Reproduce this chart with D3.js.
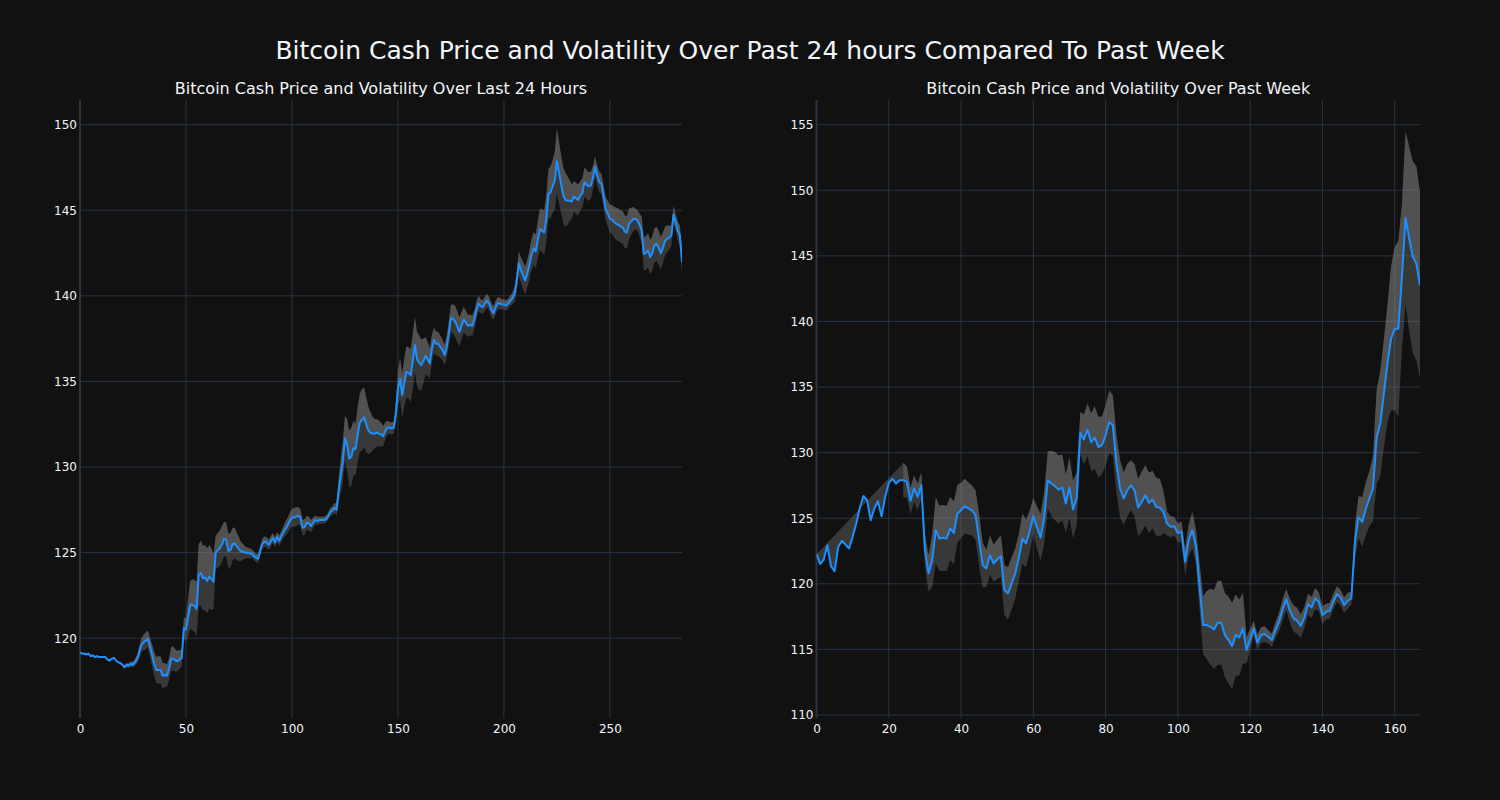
<!DOCTYPE html>
<html>
<head>
<meta charset="utf-8">
<script src="https://cdn.jsdelivr.net/npm/d3@7"></script>
<style>
html,body{margin:0;padding:0;background:#111111;}
svg{display:block;}
</style>
</head>
<body>
<svg id="chart" width="1500" height="800"></svg>
<script>
// ---------------- DATA ----------------
const mainTitle = "Bitcoin Cash Price and Volatility Over Past 24 hours Compared To Past Week";
const leftTitle = "Bitcoin Cash Price and Volatility Over Last 24 Hours";
const rightTitle = "Bitcoin Cash Price and Volatility Over Past Week";

// Last 24 hours: price per step (index 0..284)
const dayPrice = [
119.15,119.1,119.1,119.05,119.1,118.95,119.0,118.9,118.95,118.9,
118.9,118.9,118.9,118.75,118.7,118.8,118.85,118.7,118.6,118.55,
118.45,118.3,118.45,118.4,118.5,118.45,118.6,118.8,119.2,119.6,
119.75,119.85,119.95,119.5,119.0,118.5,118.15,118.15,118.15,117.8,
117.85,117.8,118.2,118.8,118.8,118.7,118.65,118.75,118.85,120.6,
120.5,121.2,121.95,121.95,121.9,121.7,123.7,123.8,123.5,123.55,
123.35,123.6,123.45,123.3,125.0,125.15,125.25,125.5,125.8,125.75,
125.1,125.15,125.5,125.55,125.35,125.2,125.05,125.05,125.0,125.0,
124.95,124.95,124.8,124.7,124.65,125.1,125.5,125.65,125.6,125.45,
125.65,125.85,125.6,125.9,125.7,125.95,126.2,126.4,126.6,126.85,
127.05,127.05,127.1,127.15,127.05,126.45,126.5,126.75,126.7,126.55,
126.75,126.9,126.85,126.9,126.9,126.9,126.95,127.1,127.35,127.45,
127.6,127.5,128.6,129.5,130.3,131.7,131.3,130.5,130.6,131.1,
131.05,131.9,132.6,132.75,132.9,132.5,132.15,132.0,131.95,131.95,
132.0,131.95,131.9,131.8,132.1,132.3,132.3,132.25,132.3,133.1,
134.6,135.15,134.2,134.95,135.55,135.5,135.35,136.2,137.15,136.3,
136.1,135.95,136.2,136.5,136.3,136.05,136.9,137.42,137.2,137.2,
137.0,136.85,136.55,137.0,137.8,138.7,138.65,138.5,138.2,137.9,
138.25,138.6,138.45,138.25,138.3,138.25,138.6,139.15,139.55,139.4,
139.35,139.55,139.72,139.55,139.2,138.98,139.3,139.57,139.55,139.5,
139.5,139.43,139.55,139.7,139.85,140.1,140.8,141.9,141.5,141.2,
140.9,141.3,141.8,142.4,142.77,142.6,143.3,143.9,143.8,143.7,
144.5,145.95,146.05,146.4,146.74,147.86,147.2,146.5,145.86,145.6,
145.57,145.55,145.5,145.8,145.7,145.6,145.85,146.0,146.64,146.5,
146.39,146.45,146.9,147.55,147.0,146.64,146.55,145.8,145.08,144.8,
144.5,144.45,144.3,144.2,144.15,144.05,144.0,143.75,143.7,144.2,
144.35,144.49,144.5,144.4,144.15,143.8,142.45,142.5,142.65,142.26,
142.5,142.95,143.04,142.8,142.49,142.8,143.2,143.33,143.4,143.53,
144.74,144.3,143.8,143.53,141.96
];
// Last 24 hours: volatility half-width of the band around the price
const dayVol = [
0.05,0.05,0.05,0.05,0.05,0.05,0.05,0.05,0.05,0.05,
0.05,0.05,0.05,0.05,0.05,0.05,0.05,0.05,0.05,0.05,
0.05,0.05,0.1,0.12,0.15,0.18,0.2,0.25,0.35,0.4,
0.45,0.5,0.5,0.55,0.65,0.7,0.75,0.8,0.8,0.75,
0.7,0.65,0.65,0.7,0.7,0.65,0.6,0.55,0.5,0.6,
0.7,1.1,1.4,1.5,1.5,1.6,1.8,1.9,1.9,1.9,
1.9,1.85,1.8,1.6,1.0,1.0,1.05,1.05,1.0,1.0,
1.0,1.0,0.95,0.9,0.8,0.7,0.55,0.45,0.35,0.3,
0.3,0.25,0.25,0.25,0.25,0.25,0.3,0.3,0.3,0.3,
0.3,0.3,0.3,0.3,0.3,0.3,0.35,0.4,0.45,0.5,
0.5,0.55,0.55,0.5,0.5,0.45,0.45,0.4,0.4,0.35,
0.3,0.25,0.25,0.2,0.2,0.2,0.2,0.2,0.25,0.25,
0.3,0.35,0.7,1.0,1.2,1.3,1.5,1.65,1.7,1.6,
1.5,1.6,1.7,1.8,1.75,1.6,1.4,1.2,1.0,0.85,
0.8,0.75,0.7,0.6,0.5,0.4,0.35,0.35,0.35,0.6,
1.0,1.2,1.3,1.4,1.5,1.5,1.55,1.6,1.6,1.6,
1.6,1.5,1.3,1.1,1.0,0.9,0.8,0.75,0.7,0.7,
0.65,0.6,0.6,0.65,0.75,0.8,0.85,0.9,0.9,0.85,
0.8,0.75,0.7,0.65,0.6,0.6,0.55,0.5,0.45,0.4,
0.4,0.4,0.4,0.4,0.4,0.4,0.4,0.35,0.35,0.3,
0.3,0.3,0.3,0.3,0.35,0.45,0.6,0.7,0.75,0.8,
0.8,0.8,0.85,0.9,0.95,1.0,1.1,1.2,1.25,1.3,
1.4,1.45,1.5,1.55,1.7,1.9,1.8,1.7,1.65,1.6,
1.4,1.2,1.0,0.9,0.9,0.9,0.85,0.85,0.85,0.85,
0.85,0.8,0.7,0.6,0.6,0.6,0.6,0.65,0.7,0.75,
0.8,0.85,0.9,0.95,0.95,0.95,0.95,0.95,0.95,0.9,
0.8,0.7,0.6,0.6,0.65,0.8,0.95,1.0,1.0,1.0,
1.0,1.0,1.0,1.0,0.95,0.9,0.85,0.8,0.7,0.6,
0.5,0.5,0.55,0.6,0.65
];

// Past week: price per step (index 0..167)
const weekPrice = [
122.26,121.5,121.85,122.94,121.35,120.96,122.8,123.27,123.0,122.69,
123.58,124.6,125.8,126.7,126.37,124.85,125.74,126.3,125.15,126.62,
127.69,128.0,127.64,127.9,127.9,127.77,126.32,127.26,126.62,127.51,
122.56,120.79,121.75,124.09,123.45,123.5,123.45,124.21,123.88,125.36,
125.6,125.91,125.75,125.6,125.23,123.33,121.42,121.17,122.18,121.55,
121.85,122.1,119.52,119.26,120.03,120.79,122.0,123.45,123.07,124.0,
125.15,124.3,123.53,125.0,127.9,127.65,127.44,127.18,127.35,126.12,
127.34,125.66,126.5,131.5,131.0,131.75,130.8,131.14,130.43,130.56,
131.32,132.33,132.08,129.16,127.26,126.5,127.13,127.51,127.13,125.81,
126.24,126.75,126.17,126.42,125.86,125.81,125.48,124.59,124.34,124.39,
123.88,123.96,121.68,123.32,124.09,122.82,119.77,116.85,116.85,116.73,
116.52,117.03,117.03,116.09,115.71,115.25,116.09,115.91,116.6,114.95,
115.76,116.6,115.53,116.09,116.17,115.96,115.71,116.47,117.1,118.05,
118.81,117.94,117.36,117.18,116.78,117.44,118.45,118.2,118.88,118.63,
117.61,117.87,117.94,118.63,119.21,118.96,118.38,118.71,118.88,123.2,
125.08,124.72,125.7,126.5,127.26,131.18,132.2,134.5,136.8,138.69,
139.45,139.45,143.4,147.9,146.32,144.92,144.41,142.76
];
// Past week: volatility half-width (null = not yet available)
const weekVol = [
null,null,null,null,null,null,null,null,null,null,
null,null,null,null,null,null,null,null,null,null,
null,null,null,null,1.3,1.2,1.0,1.0,1.0,1.0,
1.2,1.4,2.0,2.5,2.5,2.5,2.5,2.4,2.4,2.2,
2.1,2.1,2.0,1.9,1.9,2.0,1.7,1.4,1.5,1.4,
1.5,1.6,1.9,2.0,2.0,1.9,1.8,1.9,1.8,1.6,
1.4,1.6,1.8,2.0,2.2,2.5,2.6,2.6,2.5,2.2,
2.3,2.2,2.0,1.6,1.9,2.0,2.2,2.4,2.3,2.2,
2.3,2.4,2.3,2.2,2.2,2.0,2.0,1.9,2.0,2.2,
2.3,2.3,2.3,2.2,2.2,2.2,1.6,0.9,0.8,0.7,
0.7,0.8,1.0,1.2,1.4,1.3,1.8,2.2,2.6,2.9,
3.0,3.2,3.2,3.2,3.3,3.3,3.1,2.9,2.7,1.0,
0.8,0.6,0.6,0.6,0.6,0.5,0.5,0.6,0.7,0.8,
0.8,0.9,1.0,1.0,0.9,0.8,0.8,0.8,0.8,0.7,
0.7,0.6,0.6,0.6,0.6,0.6,0.6,0.6,0.5,1.3,
1.6,1.9,2.0,2.1,2.5,3.6,4.0,4.1,4.5,5.5,
6.2,6.7,5.5,6.6,7.0,7.3,7.4,7.1
];

const dayXTicks = [0, 50, 100, 150, 200, 250];
const dayYTicks = [120, 125, 130, 135, 140, 145, 150];
const weekXTicks = [0, 20, 40, 60, 80, 100, 120, 140, 160];
const weekYTicks = [110, 115, 120, 125, 130, 135, 140, 145, 150, 155];

// ---------------- DRAW ----------------
const svg = d3.select("#chart");
const FONT = "'DejaVu Sans', 'Open Sans', sans-serif";
const TXT = "#f2f5fa";
const GRID = "#283442";
const FILL = "rgba(128,128,128,0.36)";
const LINE = "#1e8fff";

svg.append("rect").attr("width", 1500).attr("height", 800).attr("fill", "#111111");

svg.append("text").attr("x", 750).attr("y", 59).attr("text-anchor", "middle")
  .attr("font-family", FONT).attr("font-size", 25).attr("fill", TXT).text(mainTitle);

function panel(cfg) {
  const {price, vol, x0, x1, y0, y1, xDomain, yDomain, xTicks, yTicks, title, id} = cfg;
  const x = d3.scaleLinear().domain(xDomain).range([x0, x1]);
  const y = d3.scaleLinear().domain(yDomain).range([y1, y0]);
  const g = svg.append("g");

  // grid
  g.selectAll(".gx").data(xTicks).join("line")
    .attr("x1", d => x(d)).attr("x2", d => x(d)).attr("y1", y0).attr("y2", y1)
    .attr("stroke", GRID).attr("stroke-width", d => d === 0 ? 2 : 1);
  g.selectAll(".gy").data(yTicks).join("line")
    .attr("x1", x0).attr("x2", x1).attr("y1", d => y(d)).attr("y2", d => y(d))
    .attr("stroke", GRID).attr("stroke-width", 1);

  // axes labels via d3 axes (no domain/ticks lines)
  const xAxis = d3.axisBottom(x).tickValues(xTicks).tickSize(0).tickPadding(6).tickFormat(d3.format("d"));
  const ax = g.append("g").attr("transform", `translate(0,${y1})`).call(xAxis);
  ax.select(".domain").remove();
  ax.selectAll("text").attr("fill", TXT).attr("font-family", FONT).attr("font-size", 12);
  const yAxis = d3.axisLeft(y).tickValues(yTicks).tickSize(0).tickPadding(3).tickFormat(d3.format("d"));
  const ay = g.append("g").attr("transform", `translate(${x0},0)`).call(yAxis);
  ay.select(".domain").remove();
  ay.selectAll("text").attr("fill", TXT).attr("font-family", FONT).attr("font-size", 12);

  // clip
  svg.append("clipPath").attr("id", "clip" + id).append("rect")
    .attr("x", x0).attr("y", y0).attr("width", x1 - x0).attr("height", y1 - y0);
  const pg = g.append("g").attr("clip-path", `url(#clip${id})`);

  const pts = price.map((p, i) => ({i, p, v: vol[i]}));
  const def = pts.filter(d => d.v !== null && d.v !== undefined);
  const upper = def.map(d => [x(d.i), y(d.p + d.v)]);
  const lower = def.map(d => [x(d.i), y(d.p - d.v)]);
  const priceXY = pts.map(d => [x(d.i), y(d.p)]);
  const poly = d3.line();

  // band between upper and lower
  pg.append("path").attr("d", poly(upper.concat(lower.slice().reverse())) + "Z").attr("fill", FILL);
  // fill between price and upper
  pg.append("path").attr("d", poly(priceXY.concat(upper.slice().reverse())) + "Z").attr("fill", FILL);
  // price line
  pg.append("path").datum(pts)
    .attr("d", d3.line().x(d => x(d.i)).y(d => y(d.p)))
    .attr("fill", "none").attr("stroke", LINE).attr("stroke-width", 2).attr("stroke-linejoin", "round");

  svg.append("text").attr("x", (x0 + x1) / 2).attr("y", 94).attr("text-anchor", "middle")
    .attr("font-family", FONT).attr("font-size", 16).attr("fill", TXT).text(title);
}

panel({price: dayPrice, vol: dayVol, x0: 80, x1: 682, y0: 100, y1: 718,
  xDomain: [0, 284], yDomain: [115.34, 151.44], xTicks: dayXTicks, yTicks: dayYTicks,
  title: leftTitle, id: "L"});
panel({price: weekPrice, vol: weekVol, x0: 816.5, x1: 1420, y0: 100, y1: 718,
  xDomain: [0, 167], yDomain: [109.77, 156.88], xTicks: weekXTicks, yTicks: weekYTicks,
  title: rightTitle, id: "R"});
</script>
</body>
</html>
